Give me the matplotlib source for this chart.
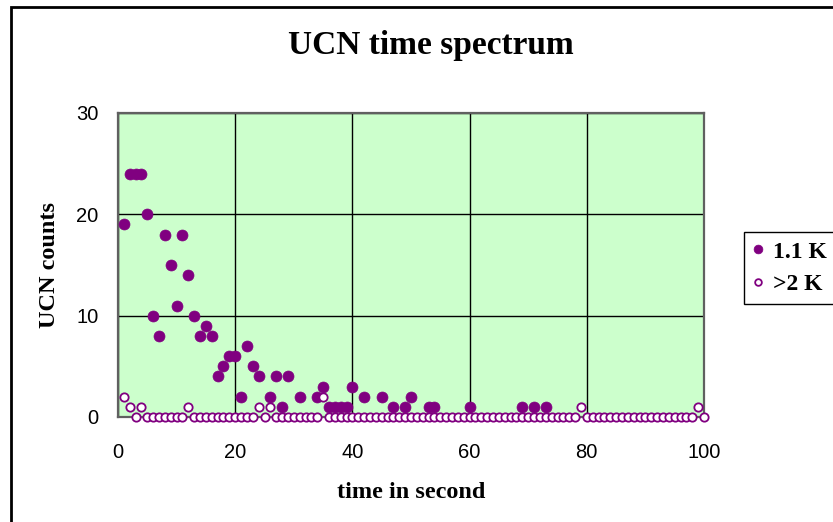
import matplotlib
matplotlib.use("Agg")
import matplotlib.pyplot as plt
from matplotlib.patches import Rectangle
import numpy as np

# ---- data ----
time_s = list(range(1, 101))
counts_cold = [19, 24, 24, 24, 20, 10, 8, 18, 15, 11,
               18, 14, 10, 8, 9, 8, 4, 5, 6, 6,
               2, 7, 5, 4, 0, 2, 4, 1, 4, 0,
               2, 0, 0, 2, 3, 1, 1, 1, 1, 3,
               0, 2, 0, 0, 2, 0, 1, 0, 1, 2,
               0, 0, 1, 1, 0, 0, 0, 0, 0, 1,
               0, 0, 0, 0, 0, 0, 0, 0, 1, 0,
               1, 0, 1, 0, 0, 0, 0, 0, 0, 0,
               0, 0, 0, 0, 0, 0, 0, 0, 0, 0,
               0, 0, 0, 0, 0, 0, 0, 0, 0, 0]
counts_warm = [2, 1, 0, 1, 0, 0, 0, 0, 0, 0,
               0, 1, 0, 0, 0, 0, 0, 0, 0, 0,
               0, 0, 0, 1, 0, 1, 0, 0, 0, 0,
               0, 0, 0, 0, 2, 0, 0, 0, 0, 0,
               0, 0, 0, 0, 0, 0, 0, 0, 0, 0,
               0, 0, 0, 0, 0, 0, 0, 0, 0, 0,
               0, 0, 0, 0, 0, 0, 0, 0, 0, 0,
               0, 0, 0, 0, 0, 0, 0, 0, 1, 0,
               0, 0, 0, 0, 0, 0, 0, 0, 0, 0,
               0, 0, 0, 0, 0, 0, 0, 0, 1, 0]
series_labels = ["1.1 K", ">2 K"]
x_ticks = [0, 20, 40, 60, 80, 100]
y_ticks = [0, 10, 20, 30]

purple = "#800080"
W, H = 833, 522
fig = plt.figure(figsize=(W / 100, H / 100), dpi=100)
ax = fig.add_axes([118 / W, 1 - 417 / H, (704 - 118) / W, (417 - 113) / H])
ax.set_facecolor("#CCFFCC")

t = np.array(time_s)
cold = np.array(counts_cold)
warm = np.array(counts_warm)
m = cold > 0
ax.plot(t[m], cold[m], linestyle="none", marker="o", markersize=7.9,
        markerfacecolor=purple, markeredgecolor=purple, markeredgewidth=0.5,
        label=series_labels[0], clip_on=False, zorder=3)
ax.plot(t, warm, linestyle="none", marker="o", markersize=6.0,
        markerfacecolor="white", markeredgecolor=purple, markeredgewidth=1.3,
        label=series_labels[1], clip_on=False, zorder=4)

ax.set_xlim(0, 100)
ax.set_ylim(0, 30)
ax.set_xticks(x_ticks)
ax.set_yticks(y_ticks)
ax.set_xticklabels([str(v) for v in x_ticks], fontfamily="Liberation Sans", fontsize=14.5)
ax.set_yticklabels([str(v) for v in y_ticks], fontfamily="Liberation Sans", fontsize=14.5)
ax.tick_params(axis="x", length=0, pad=19)
ax.tick_params(axis="y", length=0, pad=14)
ax.grid(True, color="black", linewidth=1.0)
ax.set_axisbelow(True)
for s in ax.spines.values():
    s.set_color("#606060")
    s.set_linewidth(1.6)

ax.set_xlabel("time in second", fontfamily="Liberation Serif", fontweight="bold",
              fontsize=17.5, labelpad=14)
ax.set_ylabel("UCN counts", fontfamily="Liberation Serif", fontweight="bold",
              fontsize=17.5, labelpad=12)
fig.text(431 / W, 1 - 45 / H, "UCN time spectrum", ha="center", va="center",
         fontfamily="Liberation Serif", fontweight="bold", fontsize=24)

leg = ax.legend(loc="upper left", bbox_to_anchor=(744 / W, 1 - 300 / H, 120 / W, 68 / H),
                mode="expand",
                bbox_transform=fig.transFigure, frameon=True, fancybox=False,
                shadow=False, framealpha=1, edgecolor="black",
                prop={"family": "Liberation Serif", "weight": "bold", "size": 17},
                handlelength=0.4, handletextpad=0.45, borderpad=0.38,
                labelspacing=0.48, markerscale=0.8, borderaxespad=0)
leg.get_frame().set_linewidth(1.0)

fig.add_artist(Rectangle((11 / W, -0.1), 1.2, 1.1 - 7 / H, transform=fig.transFigure,
                         fill=False, edgecolor="black", linewidth=2.0, clip_on=False))

fig.savefig("out.png", dpi=100)
